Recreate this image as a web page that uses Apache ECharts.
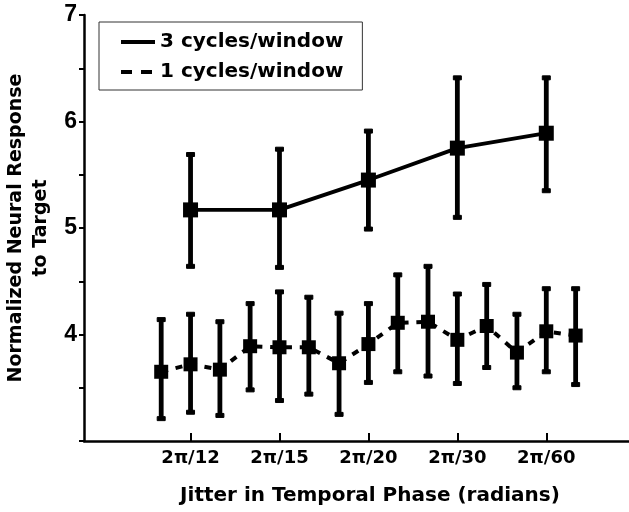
<!DOCTYPE html>
<html>
<head>
<meta charset="utf-8">
<script src="https://cdn.jsdelivr.net/npm/echarts@6/dist/echarts.min.js"></script>
<style>
  html, body { margin: 0; padding: 0; background: #fff; }
  #main { width: 629px; height: 512px; }
</style>
</head>
<body>
<div id="main"></div>
<script>
// x tick labels (one per jitter condition)
const phaseLabels = ['2\u03c0/12', '2\u03c0/15', '2\u03c0/20', '2\u03c0/30', '2\u03c0/60'];
const phaseTicks = [1, 2, 3, 4, 5];

// 3 cycles/window
const solidPos = [1, 2, 3, 4, 5];
const solidMean = [5.17, 5.17, 5.45, 5.75, 5.89];
const solidLow = [4.64, 4.63, 4.99, 5.10, 5.35];
const solidHigh = [5.69, 5.74, 5.91, 6.41, 6.41];

// 1 cycles/window
const dashPos = [0.67, 1, 1.33, 1.67, 2, 2.33, 2.67, 3, 3.33, 3.67, 4, 4.33, 4.67, 5, 5.33];
const dashMean = [3.65, 3.72, 3.67, 3.89, 3.88, 3.88, 3.73, 3.91, 4.11, 4.12, 3.95, 4.08, 3.83, 4.03, 3.99];
const dashLow = [3.21, 3.27, 3.24, 3.48, 3.38, 3.44, 3.25, 3.55, 3.65, 3.61, 3.54, 3.69, 3.50, 3.65, 3.53];
const dashHigh = [4.14, 4.19, 4.12, 4.29, 4.40, 4.35, 4.20, 4.29, 4.56, 4.64, 4.38, 4.47, 4.19, 4.43, 4.43];

const FONT = 'DejaVu Sans';

function pairs(xs, ys) {
  return xs.map((x, i) => [x, ys[i]]);
}
function triples(xs, lo, hi) {
  return xs.map((x, i) => [x, lo[i], hi[i]]);
}

// vertical error bar with small caps
function renderErrorBar(params, api) {
  const top = api.coord([api.value(0), api.value(2)]);
  const bot = api.coord([api.value(0), api.value(1)]);
  const style = { fill: '#000', stroke: '#000' };
  return {
    type: 'group',
    children: [
      { type: 'line', shape: { x1: top[0], y1: top[1], x2: bot[0], y2: bot[1] },
        style: { stroke: '#000', lineWidth: 4.8 } },
      { type: 'rect', shape: { x: top[0] - 4, y: top[1] - 2, width: 8, height: 4 }, style: style },
      { type: 'rect', shape: { x: bot[0] - 4, y: bot[1] - 2, width: 8, height: 4 }, style: style }
    ]
  };
}

const chart = echarts.init(document.getElementById('main'), null, { renderer: 'canvas' });

chart.setOption({
  animation: false,
  backgroundColor: '#fff',
  grid: { left: 84, top: 15, right: 0, bottom: 71, outerBoundsMode: 'none', containLabel: false },
  legend: {
    orient: 'vertical',
    left: 99,
    top: 22,
    padding: [10, 19, 8, 20],
    itemGap: 10,
    itemWidth: 34,
    itemHeight: 20,
    borderColor: '#333',
    borderWidth: 1,
    itemStyle: { opacity: 0 },
    lineStyle: { width: 4 },
    textStyle: { fontFamily: FONT, fontWeight: 'bold', fontSize: 20, color: '#000' },
    data: [
      { name: '3 cycles/window' },
      { name: '1 cycles/window', lineStyle: { type: [11, 9], width: 4 } }
    ]
  },
  xAxis: {
    type: 'value',
    min: -0.198,
    max: 5.93,
    splitLine: { show: false },
    axisLine: { onZero: false, lineStyle: { color: '#000', width: 2.5 } },
    axisTick: { inside: true, length: 8, customValues: phaseTicks, lineStyle: { color: '#000', width: 2 } },
    axisLabel: {
      customValues: phaseTicks,
      margin: 8,
      fontFamily: FONT, fontWeight: 'bold', fontSize: 18, color: '#000',
      formatter: v => phaseLabels[Math.round(v) - 1] || ''
    },
    name: 'Jitter in Temporal Phase (radians)',
    nameLocation: 'middle',
    nameGap: 45,
    nameTextStyle: { fontFamily: FONT, fontWeight: 'bold', fontSize: 20, color: '#000', padding: [0, 0, 0, 27] }
  },
  yAxis: {
    type: 'value',
    min: 3,
    max: 7,
    interval: 0.5,
    splitLine: { show: false },
    axisLine: { show: true, onZero: false, lineStyle: { color: '#000', width: 2.5 } },
    axisTick: { show: true, length: 5, lineStyle: { color: '#000', width: 2 } },
    axisLabel: {
      margin: 7,
      fontFamily: 'Liberation Sans', fontWeight: 'bold', fontSize: 23, color: '#000',
      formatter: v => (v % 1 === 0 && v > 3) ? String(v) : ''
    },
    name: 'Normalized Neural Response\nto Target',
    nameLocation: 'middle',
    nameGap: 27,
    nameTextStyle: { fontFamily: FONT, fontWeight: 'bold', fontSize: 19, lineHeight: 25, color: '#000' }
  },
  series: [
    {
      name: 'err3',
      type: 'custom',
      renderItem: renderErrorBar,
      data: triples(solidPos, solidLow, solidHigh),
      z: 2
    },
    {
      name: '3 cycles/window',
      type: 'line',
      data: pairs(solidPos, solidMean),
      symbol: 'rect',
      symbolSize: 15,
      lineStyle: { color: '#000', width: 3.8 },
      itemStyle: { color: '#000' },
      z: 3
    },
    {
      name: 'err1',
      type: 'custom',
      renderItem: renderErrorBar,
      data: triples(dashPos, dashLow, dashHigh),
      z: 2
    },
    {
      name: '1 cycles/window',
      type: 'line',
      data: pairs(dashPos, dashMean),
      symbol: 'rect',
      symbolSize: 14,
      lineStyle: { color: '#000', width: 4, type: [7, 7.8] },
      itemStyle: { color: '#000' },
      z: 3
    }
  ]
});
</script>
</body>
</html>
